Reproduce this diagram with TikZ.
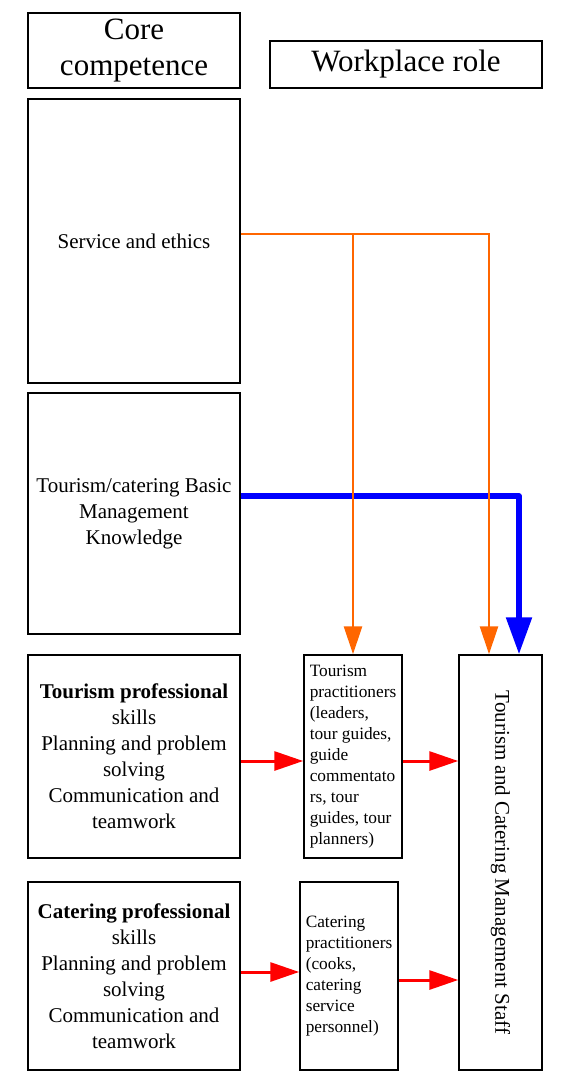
\documentclass[tikz,border=0pt]{standalone}
\usepackage{fontspec}
\setmainfont{Liberation Serif}
\usetikzlibrary{arrows.meta}
\definecolor{oline}{HTML}{FF6600}
\definecolor{bline}{HTML}{0000FF}
\definecolor{rline}{HTML}{FF0000}
\begin{document}
\begin{tikzpicture}[x=1pt,y=-1pt,
  box/.style={draw=black, line width=1.5pt, rectangle, inner sep=0pt, align=center},
  bigtext/.style={font=\fontsize{31}{36}\selectfont},
  midtext/.style={font=\fontsize{21}{26}\selectfont},
  smalltext/.style={font=\fontsize{17.3}{21}\selectfont, align=left},
  oarrow/.style={draw=oline, line width=2.8pt, -{Triangle[length=28pt,width=18pt]}},
  barrow/.style={draw=bline, line width=5.5pt, line join=round, -{Triangle[length=37pt,width=25pt]}},
  rarrow/.style={draw=rline, line width=3pt, -{Triangle[length=29pt,width=19pt]}},
]
\useasboundingbox (0,0) rectangle (572,1078);

% boxes
\node[box, bigtext, minimum width=212pt, minimum height=75pt] (core) at (134,50.5) {Core\\competence};
\node[box, bigtext, minimum width=272pt, minimum height=47pt] (work) at (406,64.5) {Workplace role};
\node[box, midtext, minimum width=212pt, minimum height=284pt] (serv) at (134,241) {Service and ethics};
\node[box, midtext, minimum width=212pt, minimum height=241pt] (basic) at (134,513.5) {Tourism/catering Basic\\Management\\Knowledge};
\node[box, midtext, minimum width=212pt, minimum height=203pt] (tprof) at (134,756.5) {\textbf{Tourism professional}\\skills\\Planning and problem\\solving\\Communication and\\teamwork};
\node[box, midtext, minimum width=212pt, minimum height=188pt] (cprof) at (134,976) {\textbf{Catering professional}\\skills\\Planning and problem\\solving\\Communication and\\teamwork};
\node[box, smalltext, minimum width=98pt, minimum height=203pt] (tprac) at (353,756.5) {Tourism\\practitioners\\(leaders,\\tour guides,\\guide\\commentato\\rs, tour\\guides, tour\\planners)};
\node[box, smalltext, minimum width=98pt, minimum height=188pt] (cprac) at (349,976) {Catering\\practitioners\\(cooks,\\catering\\service\\personnel)};
\node[box, minimum width=83pt, minimum height=415pt] (staff) at (500.5,862.5) {};
\node[midtext, rotate=-90, inner sep=0pt] (stafflabel) at (staff.center) {Tourism and Catering Management Staff};

% connector bends
\coordinate (bc) at (519,496);
\coordinate (oc) at (489,234);
\coordinate (r1) at (0,761);
\coordinate (r3) at (0,972);
\coordinate (r4) at (0,980);

% blue
\draw[barrow] (basic.east |- bc) -- (bc) -- (bc |- staff.north);
% orange
\draw[oarrow] (serv.east |- oc) -- (oc) -- (oc |- staff.north);
\draw[oarrow] (tprac.north |- oc) -- (tprac.north);
% red
\draw[rarrow] (tprof.east |- r1) -- (tprac.west |- r1);
\draw[rarrow] (tprac.east |- r1) -- (staff.west |- r1);
\draw[rarrow] (cprof.east |- r3) -- (cprac.west |- r3);
\draw[rarrow] (cprac.east |- r4) -- (staff.west |- r4);
\end{tikzpicture}
\end{document}
